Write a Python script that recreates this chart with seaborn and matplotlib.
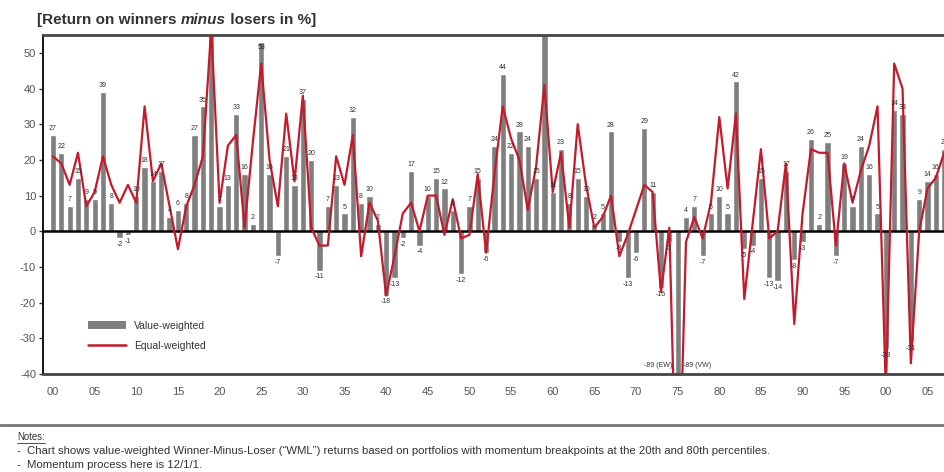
import numpy as np
import seaborn as sns
import matplotlib.pyplot as plt
from matplotlib import font_manager
from matplotlib.patches import Patch
from matplotlib.lines import Line2D

years = np.arange(1900, 2008)

# value-weighted WML return per year, %
vw = [27, 22, 7, 15, 9, 9, 39, 8, -2, -1,
      10, 18, 14, 17, 4, 6, 8, 27, 35, 58,
      7, 13, 33, 16, 2, 53, 16, -7, 21, 13,
      37, 20, -11, 7, 13, 5, 32, 8, 10, 2,
      -18, -13, -2, 17, -4, 10, 15, 12, 6, -12,
      7, 15, -6, 24, 44, 22, 28, 24, 15, 57,
      11, 23, 8, 15, 10, 2, 5, 28, -3, -13,
      -6, 29, 11, -16, -3, -89, 4, 7, -7, 5,
      10, 5, 42, -5, -4, 15, -13, -14, 17, -8,
      -3, 26, 2, 25, -7, 19, 7, 24, 16, 5,
      -33, 34, 33, -31, 9, 14, 16, 23]

# equal-weighted WML return per year, %
ew = [21, 19, 13, 22, 7, 11, 21, 13, 8, 13,
      8, 35, 14, 19, 7, -5, 7, 13, 21, 57,
      8, 24, 27, 1, 25, 47, 20, 7, 33, 14,
      38, 1, -4, -4, 21, 13, 27, -7, 8, 3,
      -18, -7, 5, 8, 0, 10, 10, -1, 9, -2,
      -1, 16, -6, 16, 35, 26, 20, 6, 18, 41,
      11, 22, 1, 30, 13, 1, 4, 10, -7, -1,
      6, 13, 11, -17, 1, -89, -3, 4, -2, 8,
      32, 12, 33, -19, 2, 23, -2, 0, 19, -26,
      5, 23, 22, 22, -4, 19, 8, 17, 24, 35,
      -45, 47, 40, -37, 0, 12, 15, 22]

tick_years = np.arange(1900, 2006, 5)
tick_labels = [f"{y % 100:02d}" for y in tick_years]

sns.set_theme(style='white')
plt.rcParams['font.family'] = ['Liberation Sans', 'DejaVu Sans']
plt.rcParams['axes.unicode_minus'] = False

# notes use a condensed face when there is one
names = {f.name for f in font_manager.fontManager.ttflist}
if 'Liberation Sans Narrow' in names:
    note_font, note_size = ['Liberation Sans Narrow', 'Liberation Sans'], 9.5
else:
    note_font, note_size = ['Liberation Sans', 'DejaVu Sans'], 8.2

BAR_GREY = '#7f7f7f'
RED = '#c41a2b'

fig = plt.figure(figsize=(9.45, 4.72), dpi=100)
ax = fig.add_axes([0.0455, 0.2076, 0.9545, 0.7182])

sns.barplot(x=years, y=vw, native_scale=True, color=BAR_GREY, saturation=1,
            width=0.75, errorbar=None, ax=ax, zorder=2)
ax.axhline(0, color='black', lw=1.8, zorder=3)
sns.lineplot(x=years, y=ew, color=RED, lw=1.6, ax=ax, zorder=4)

ax.set_ylim(-40, 55)
ax.set_xlim(1898.8, 2007.1)
ax.set_yticks(range(-40, 51, 10))
ax.set_xticks(tick_years)
ax.set_xticklabels(tick_labels)
ax.set_xlabel('')
ax.set_ylabel('')
ax.tick_params(axis='y', direction='out', length=3, width=1, color='#333333',
               labelsize=8, labelcolor='#555555', left=True, pad=2)
ax.tick_params(axis='x', length=0, labelsize=8, labelcolor='#555555', pad=9)

for side in ['top', 'bottom']:
    ax.spines[side].set_color('#444444')
    ax.spines[side].set_linewidth(2)
ax.spines['left'].set_color('black')
ax.spines['left'].set_linewidth(1.3)
ax.spines['right'].set_visible(False)

# value labels on the bars
for yr, v in zip(years, vw):
    if v > 54 or v < -40:
        continue
    if v >= 50:
        ax.text(yr, v - 0.5, str(v), ha='center', va='top', fontsize=5,
                color='#222222', zorder=5)
    elif v >= 0:
        ax.text(yr, v + 0.8, str(v), ha='center', va='bottom', fontsize=5,
                color='#333333', zorder=5)
    else:
        ax.text(yr, v - 0.8, str(v), ha='center', va='top', fontsize=5,
                color='#333333', zorder=5)

ax.text(1974.3, -38.6, '-89 (EW)', ha='right', va='bottom', fontsize=5, color='#333333')
ax.text(1975.7, -38.6, '-89 (VW)', ha='left', va='bottom', fontsize=5, color='#333333')

handles = [Patch(facecolor=BAR_GREY, edgecolor='none'),
           Line2D([0], [0], color=RED, lw=1.8)]
ax.legend(handles, ['Value-weighted', 'Equal-weighted'], loc='lower left',
          bbox_to_anchor=(0.04, 0.04), frameon=False, fontsize=7.5,
          handlelength=3.6, handleheight=0.9, labelspacing=1.0, labelcolor='#333333')

# title with italic "minus"
TY = 0.957
t1 = fig.text(0.039, TY, '[Return on winners ', fontsize=11, fontweight='bold',
              color='#333333', va='center')
t2 = fig.text(0, 0, 'minus', fontsize=11, fontweight='bold', fontstyle='italic',
              color='#333333', va='center')
t3 = fig.text(0, 0, ' losers in %]', fontsize=11, fontweight='bold',
              color='#333333', va='center')
fig.canvas.draw()
r = fig.canvas.get_renderer()
bb1 = t1.get_window_extent(r)
t2.set_position((bb1.x1 / fig.bbox.width, TY))
fig.canvas.draw()
bb2 = t2.get_window_extent(r)
t3.set_position((bb2.x1 / fig.bbox.width, TY))

# notes block
fig.add_artist(Line2D([0, 1], [0.0996, 0.0996], transform=fig.transFigure,
                      color='#777777', lw=2))
n = fig.text(0.018, 0.074, 'Notes:', fontsize=note_size * 0.85, family=note_font,
             color='#333333', va='center')
fig.canvas.draw()
nb = n.get_window_extent(r)
fig.add_artist(Line2D([nb.x0 / fig.bbox.width, nb.x1 / fig.bbox.width],
                      [nb.y0 / fig.bbox.height - 0.002] * 2,
                      transform=fig.transFigure, color='#333333', lw=0.6))
fig.text(0.018, 0.0445,
         '-  Chart shows value-weighted Winner-Minus-Loser (\u201cWML\u201d) returns based on '
         'portfolios with momentum breakpoints at the 20th and 80th percentiles.',
         fontsize=note_size, family=note_font, color='#333333', va='center')
fig.text(0.018, 0.0148, '-  Momentum process here is 12/1/1.', fontsize=note_size,
         family=note_font, color='#333333', va='center')

fig.savefig('out.png', dpi=100)
